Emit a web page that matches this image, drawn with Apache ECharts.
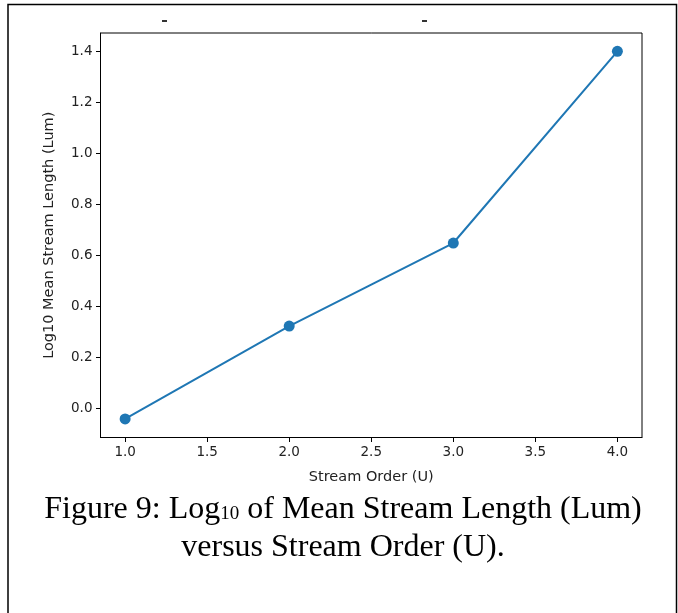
<!DOCTYPE html>
<html>
<head>
<meta charset="utf-8">
<script src="https://cdn.jsdelivr.net/npm/echarts@6/dist/echarts.min.js"></script>
<style>
html,body{margin:0;padding:0;background:#fff;}
#chart{width:678px;height:613px;}
</style>
</head>
<body>
<div id="chart"></div>
<script>
// Data
var streamOrder = [1.0, 2.0, 3.0, 4.0];
var log10MeanLength = [-0.042, 0.322, 0.648, 1.40];
var xTicks = [1.0, 1.5, 2.0, 2.5, 3.0, 3.5, 4.0];
var yTicks = [0.0, 0.2, 0.4, 0.6, 0.8, 1.0, 1.2, 1.4];
var xAxisTitle = 'Stream Order (U)';
var yAxisTitle = 'Log10 Mean Stream Length (Lum)';

var points = streamOrder.map(function (x, i) { return [x, log10MeanLength[i]]; });

var chart = echarts.init(document.getElementById('chart'), null, {renderer: 'canvas'});
var tickFont = 'DejaVu Sans';
var option = {
  animation: false,
  backgroundColor: '#fff',
  grid: {
    left: 100.5, right: 36, top: 33, bottom: 175.5,
    show: true, borderColor: '#000', borderWidth: 1, backgroundColor: 'transparent'
  },
  xAxis: {
    type: 'value', min: 0.85, max: 4.15,
    splitLine: {show: false},
    axisLine: {show: true, onZero: false, lineStyle: {color: '#000', width: 1}},
    axisTick: {show: true, inside: false, length: 4.5, lineStyle: {color: '#000'}, customValues: xTicks},
    axisLabel: {
      customValues: xTicks, margin: 8, color: '#222', fontFamily: tickFont, fontSize: 13.5,
      formatter: function (v) { return Number(v).toFixed(1); }
    },
    name: xAxisTitle, nameLocation: 'middle', nameGap: 32,
    nameTextStyle: {color: '#222', fontFamily: tickFont, fontSize: 14.5}
  },
  yAxis: {
    type: 'value', min: -0.115, max: 1.472,
    splitLine: {show: false},
    axisLine: {show: true, onZero: false, lineStyle: {color: '#000', width: 1}},
    axisTick: {show: true, inside: false, length: 4.5, lineStyle: {color: '#000'}, customValues: yTicks},
    axisLabel: {
      customValues: yTicks, margin: 8, color: '#222', fontFamily: tickFont, fontSize: 13.5,
      formatter: function (v) { return Number(v).toFixed(1); }
    },
    name: yAxisTitle, nameLocation: 'middle', nameGap: 44, nameRotate: 90,
    nameTextStyle: {color: '#222', fontFamily: tickFont, fontSize: 14.5}
  },
  series: [{
    type: 'line',
    data: points,
    symbol: 'circle', symbolSize: 11,
    itemStyle: {color: '#1f77b4'},
    lineStyle: {color: '#1f77b4', width: 2},
    silent: true
  }],
  graphic: [
    {type: 'rect', shape: {x: 8, y: 4.5, width: 668.5, height: 640}, style: {fill: 'none', stroke: '#000', lineWidth: 1.5}, silent: true},
    {type: 'line', shape: {x1: 162, y1: 21, x2: 167, y2: 21}, style: {stroke: '#333', lineWidth: 2}, silent: true},
    {type: 'line', shape: {x1: 422, y1: 21, x2: 427, y2: 21}, style: {stroke: '#333', lineWidth: 2}, silent: true},
    {
      type: 'text', x: 343, y: 510,
      style: {
        text: 'Figure 9: Log{sub|10} of Mean Stream Length (Lum)',
        rich: {sub: {fontSize: 19, fontFamily: 'Liberation Serif', fill: '#000', padding: [8, 0, 0, 0]}},
        font: '32px "Liberation Serif"', fill: '#000', align: 'center', verticalAlign: 'middle'
      }, silent: true
    },
    {
      type: 'text', x: 343, y: 548,
      style: {
        text: 'versus Stream Order (U).',
        font: '32px "Liberation Serif"', fill: '#000', align: 'center', verticalAlign: 'middle'
      }, silent: true
    }
  ]
};
chart.setOption(option);
</script>
</body>
</html>
